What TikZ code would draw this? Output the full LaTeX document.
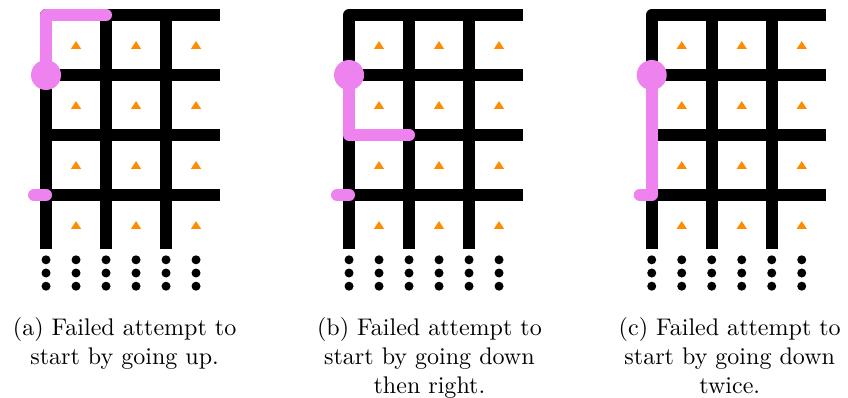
\documentclass[tikz,border=0pt]{standalone}
\usepackage{fontspec}
\newfontfamily\capfont{lmroman10-regular.otf}
\definecolor{walkpink}{RGB}{238,130,238}
\definecolor{celltri}{RGB}{255,140,0}
\tikzset{
  wall/.style={line width=.2cm,black},
  walk/.style={line width=.2cm,walkpink,line cap=round,line join=round},
  subcap/.style={inner sep=0pt,anchor=north,align=center,
    font=\capfont\fontsize{11.4}{13.75}\selectfont}
}
% one 3x4 piece of the grid, with its cell marks and the dots below
\newcommand{\lattice}{%
  \draw[wall,line join=round] (0,-3.9) -- (0,0) -- (2.9,0);
  \foreach \y in {1,2,3} \draw[wall] (-.1,-\y) -- (2.9,-\y);
  \foreach \x in {1,2} \draw[wall] (\x,0) -- (\x,-3.9);
  \foreach \x in {.5,1.5,2.5} \foreach \y in {.5,1.5,2.5,3.5}
    \fill[celltri] (\x-.085,-\y-.065) -- (\x+.085,-\y-.065) -- (\x,-\y+.065) -- cycle;
  \foreach \x in {0,.5,1,1.5,2,2.5} \foreach \y in {4.08,4.3,4.52}
    \fill (\x,-\y) circle (.075);
}
\begin{document}
\begin{tikzpicture}
\useasboundingbox (0,0) rectangle (14.133,-6.633);

% (a) up
\begin{scope}[shift={(.767,-.25)}]
  \lattice
  \draw[walk] (0,-1) -- (0,0) -- (1,0);
  \draw[walk] (-.2,-3) -- (0,-3);
  \fill[walkpink] (0,-1) circle (.25);
  \node[subcap] (capa) at (1.31,-5.03) {(a) Failed attempt to\\start by going up.};
\end{scope}

% (b) down then right
\begin{scope}[shift={(5.817,-.25)}]
  \lattice
  \draw[walk] (0,-1) -- (0,-2) -- (1,-2);
  \draw[walk] (-.2,-3) -- (0,-3);
  \fill[walkpink] (0,-1) circle (.25);
  \node[subcap] (capb) at (1.34,-5.03) {(b) Failed attempt to\\start by going down\\then right.};
\end{scope}

% (c) down twice
\begin{scope}[shift={(10.862,-.25)}]
  \lattice
  \draw[walk] (0,-1) -- (0,-3) -- (-.2,-3);
  \fill[walkpink] (0,-1) circle (.25);
  \node[subcap] (capc) at (1.30,-5.03) {(c) Failed attempt to\\start by going down\\twice.};
\end{scope}
\end{tikzpicture}
\end{document}
